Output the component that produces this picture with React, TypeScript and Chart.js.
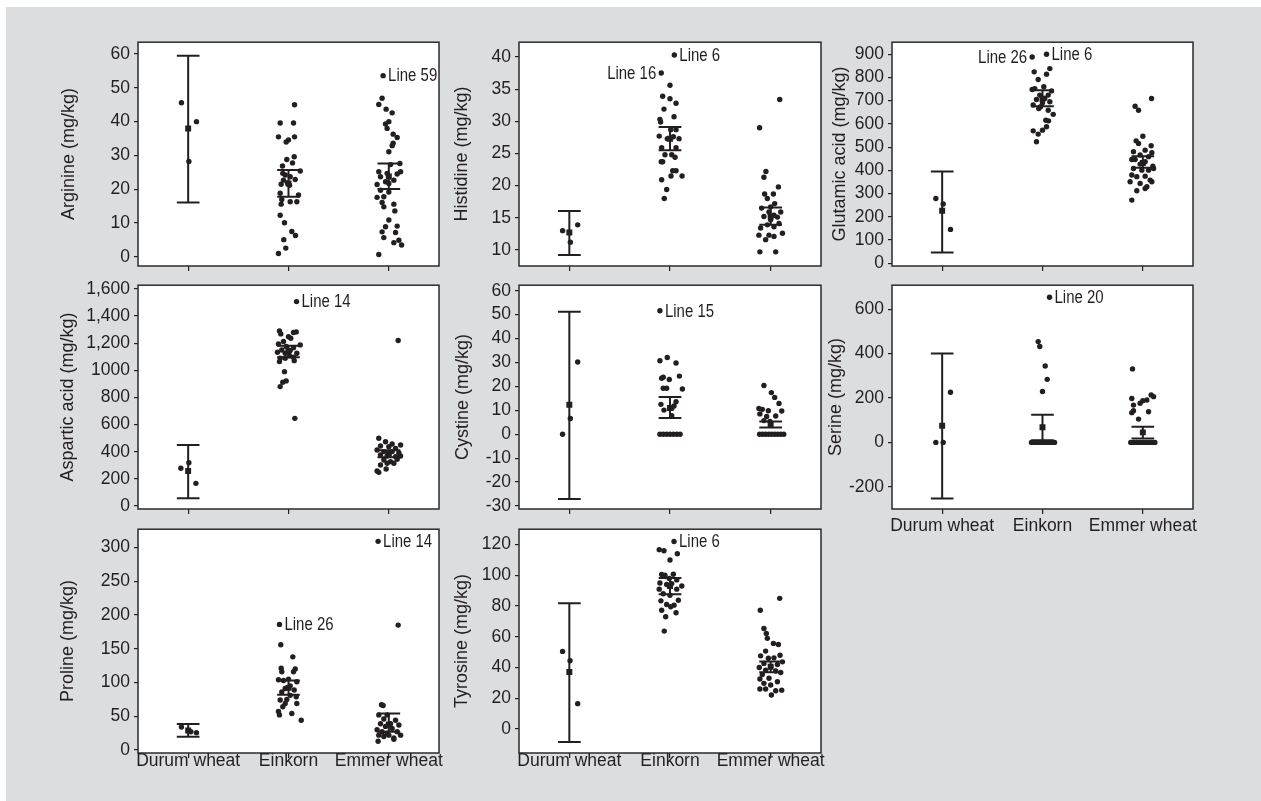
import React, { useEffect, useRef } from 'react';
import { Chart, registerables } from 'chart.js';

Chart.register(...registerables);

const FONT = '"Liberation Sans", Arial, sans-serif';
const INK = '#231f20';
const BG = '#dcdddf';

const CATEGORIES = ['Durum wheat', 'Einkorn', 'Emmer wheat'];

type Pt = [number, number]; // [jitter in category units, value]
type Note = { g: number; i: number; text: string; side: 'left' | 'right' };

// ---------- Arginine ----------
const ARG_DURUM: Pt[] = [[-0.067, 45.6], [0.083, 40.0], [0.007, 28.2]];
const ARG_EINKORN: Pt[] = [[0.06, 45.0], [-0.083, 39.6], [0.05, 39.6], [-0.1, 35.5], [0.06, 35.5], [-0.023, 34.0], [0, 34.6], [0.057, 29.6], [-0.017, 28.8], [0.04, 27.8], [-0.06, 26.9], [0.117, 25.4], [-0.033, 24.2], [0.067, 22.9], [-0.01, 21.9], [-0.073, 21.5], [0.01, 21.2], [-0.083, 18.8], [0.1, 18.3], [-0.067, 17.0], [-0.073, 15.6], [0.017, 16.3], [0.083, 16.3], [-0.083, 12.3], [-0.04, 10.1], [0.033, 7.5], [0.07, 6.3], [-0.047, 5.1], [-0.027, 2.6], [-0.1, 1.0], [-0.05, 22.7], [0.017, 23.7], [-0.057, 24.7]];
const ARG_EMMER: Pt[] = [[-0.057, 53.6], [-0.067, 46.9], [-0.1, 45.1], [-0.027, 43.7], [0.033, 42.6], [0, 40.0], [-0.033, 39.3], [-0.017, 38.0], [0.043, 36.3], [0.083, 35.3], [0.043, 33.6], [0.033, 32.9], [0, 31.1], [0.11, 27.6], [0.017, 27.3], [-0.1, 25.2], [0.117, 25.2], [-0.017, 24.7], [0.083, 24.5], [-0.083, 23.7], [0.05, 22.7], [-0.033, 22.2], [-0.117, 21.4], [0, 21.7], [-0.083, 19.7], [0, 19.2], [-0.117, 17.6], [-0.05, 17.8], [-0.067, 16.1], [0.05, 15.6], [-0.05, 14.8], [0.06, 13.6], [0, 10.9], [-0.033, 8.9], [0.083, 9.1], [-0.067, 7.4], [0.067, 7.2], [-0.05, 5.7], [0.1, 4.9], [0.05, 4.2], [0.127, 3.5], [-0.1, 0.7]];
const ARG_MEAN = [38.0, 21.7, 23.8];
const ARG_LO = [16.1, 17.8, 20.1];
const ARG_HI = [59.5, 25.7, 27.6];
const ARG_TICKS = [0, 10, 20, 30, 40, 50, 60];
const ARG_NOTES: Note[] = [{ g: 2, i: 0, text: 'Line 59', side: 'right' }];

// ---------- Histidine ----------
const HIS_DURUM: Pt[] = [[-0.067, 13.0], [0.083, 13.9], [0.01, 11.2]];
const HIS_EINKORN: Pt[] = [[0.043, 40.3], [-0.087, 37.5], [0, 35.6], [-0.073, 33.9], [0, 33.5], [0.06, 32.8], [-0.06, 31.9], [0.04, 30.7], [-0.1, 30.3], [-0.093, 29.9], [0.007, 28.7], [0.06, 28.7], [-0.107, 27.7], [-0.027, 27.3], [0.033, 27.6], [0.09, 27.3], [-0.083, 25.9], [0.06, 25.9], [-0.05, 24.8], [0.017, 24.8], [0.05, 24.4], [-0.087, 23.7], [-0.073, 23.7], [0.027, 22.3], [0.06, 22.3], [0.01, 21.5], [0.12, 21.5], [-0.083, 20.9], [-0.033, 19.4], [-0.057, 18.0]];
const HIS_EMMER: Pt[] = [[0.09, 33.4], [-0.11, 29.0], [-0.047, 22.2], [-0.067, 21.3], [0.077, 19.8], [-0.06, 18.7], [0.027, 18.7], [-0.033, 18.0], [0.04, 17.2], [-0.09, 16.5], [0.1, 15.9], [-0.017, 15.9], [0.033, 15.4], [-0.067, 15.2], [0, 14.7], [0.083, 14.1], [-0.033, 13.9], [0.033, 13.6], [-0.1, 13.4], [0.117, 12.6], [-0.117, 12.3], [-0.017, 12.3], [-0.05, 11.6], [0.033, 12.1], [-0.107, 9.7], [0.05, 9.7], [0, 16.7], [0.067, 15.1]];
const HIS_MEAN = [12.7, 27.3, 15.2];
const HIS_LO = [9.2, 25.5, 13.9];
const HIS_HI = [16.05, 29.1, 16.6];
const HIS_TICKS = [10, 15, 20, 25, 30, 35, 40];
const HIS_NOTES: Note[] = [
  { g: 1, i: 0, text: 'Line 6', side: 'right' },
  { g: 1, i: 1, text: 'Line 16', side: 'left' },
];

// ---------- Glutamic acid ----------
const GLU_DURUM: Pt[] = [[-0.063, 279], [0.01, 255], [0.083, 146]];
const GLU_EINKORN: Pt[] = [[-0.103, 888], [0.04, 900], [-0.083, 824], [0.073, 838], [0.04, 814], [-0.043, 791], [-0.077, 752], [0.013, 760], [-0.027, 724], [0.057, 724], [-0.103, 748], [0.09, 742], [-0.06, 705], [0.023, 709], [0, 691], [0.073, 695], [-0.093, 681], [-0.02, 674], [0.057, 659], [-0.037, 666], [0.107, 641], [0.033, 616], [0.06, 613], [-0.093, 570], [0, 573], [0.04, 588], [-0.043, 556], [-0.06, 523]];
const GLU_EMMER: Pt[] = [[0.087, 709], [-0.077, 676], [-0.043, 659], [0, 547], [-0.067, 527], [-0.043, 516], [0.083, 506], [-0.093, 480], [0.023, 487], [-0.027, 466], [0.09, 476], [0.057, 459], [-0.077, 447], [-0.11, 447], [0.1, 418], [-0.027, 427], [0.023, 437], [-0.093, 408], [0.107, 408], [-0.01, 401], [0.057, 401], [-0.11, 380], [-0.06, 373], [0.023, 375], [0.073, 358], [-0.127, 351], [-0.027, 344], [0.09, 351], [0.04, 330], [-0.06, 312], [0.023, 322], [-0.11, 272]];
const GLU_MEAN = [226, 708, 432];
const GLU_LO = [47, 676, 411];
const GLU_HI = [395, 745, 461];
const GLU_TICKS = [0, 100, 200, 300, 400, 500, 600, 700, 800, 900];
const GLU_NOTES: Note[] = [
  { g: 1, i: 0, text: 'Line 26', side: 'left' },
  { g: 1, i: 1, text: 'Line 6', side: 'right' },
];

// ---------- Aspartic acid ----------
const ASP_DURUM: Pt[] = [[-0.073, 278], [0.007, 319], [0.077, 167]];
const ASP_EINKORN: Pt[] = [[0.08, 1506], [-0.09, 1290], [-0.077, 1268], [0.05, 1278], [0.077, 1283], [0, 1248], [-0.05, 1212], [0.023, 1236], [-0.1, 1194], [0.117, 1187], [-0.023, 1175], [0.05, 1167], [-0.067, 1150], [0.017, 1145], [-0.11, 1133], [-0.033, 1126], [0.083, 1126], [0.01, 1106], [0.05, 1096], [-0.083, 1089], [-0.033, 1089], [-0.09, 1064], [0.057, 1071], [-0.04, 990], [-0.023, 922], [-0.057, 912], [-0.083, 880], [0.063, 646]];
const ASP_EMMER: Pt[] = [[0.093, 1219], [-0.1, 499], [-0.033, 474], [0.033, 457], [0.117, 450], [-0.083, 442], [0, 437], [0.067, 425], [-0.117, 413], [-0.05, 401], [0.033, 401], [0.1, 393], [-0.083, 376], [-0.017, 369], [0.067, 364], [0.117, 369], [-0.05, 339], [0.017, 327], [0.05, 315], [-0.083, 302], [-0.017, 315], [-0.027, 273], [-0.117, 258], [-0.1, 248], [0.083, 344]];
const ASP_MEAN = [258, 1140, 385];
const ASP_LO = [57, 1096, 360];
const ASP_HI = [450, 1180, 410];
const ASP_TICKS = [0, 200, 400, 600, 800, 1000, 1200, 1400, 1600];
const ASP_TICK_LABELS = ['0', '200', '400', '600', '800', '1000', '1,200', '1,400', '1,600'];
const ASP_NOTES: Note[] = [{ g: 1, i: 0, text: 'Line 14', side: 'right' }];

// ---------- Cystine ----------
const CYS_DURUM: Pt[] = [[-0.067, 0], [0.01, 6.6], [0.083, 30.2]];
const CYS_EINKORN: Pt[] = [[-0.1, 51.6], [-0.027, 32.1], [-0.1, 30.7], [0.06, 29.8], [0.093, 24.3], [-0.083, 23.4], [-0.067, 23.8], [-0.007, 22.9], [-0.067, 19.2], [-0.033, 19.2], [0.123, 18.9], [-0.09, 12.5], [0.06, 13.6], [-0.06, 10.1], [0.017, 10.8], [0.04, 11.8], [0.017, 7.7], [-0.1, 0], [-0.067, 0], [-0.033, 0], [0, 0], [0.033, 0], [0.067, 0], [0.1, 0]];
const CYS_EMMER: Pt[] = [[-0.067, 20.4], [0.007, 17.4], [0.04, 15.4], [0.083, 12.9], [-0.117, 10.8], [-0.083, 10.4], [-0.023, 9.8], [0.11, 9.7], [-0.107, 8.5], [-0.04, 7.4], [0.05, 7.6], [-0.067, 5.7], [-0.007, 5.3], [-0.11, 0], [-0.08, 0], [-0.05, 0], [-0.02, 0], [0.01, 0], [0.04, 0], [0.07, 0], [0.1, 0], [0.13, 0]];
const CYS_MEAN = [12.3, 11.0, 4.0];
const CYS_LO = [-27.1, 6.8, 2.8];
const CYS_HI = [51.2, 15.6, 5.3];
const CYS_TICKS = [-30, -20, -10, 0, 10, 20, 30, 40, 50, 60];
const CYS_NOTES: Note[] = [{ g: 1, i: 0, text: 'Line 15', side: 'right' }];

// ---------- Serine ----------
const SER_DURUM: Pt[] = [[-0.063, 0], [0.01, 0], [0.083, 226]];
const SER_EINKORN: Pt[] = [[0.07, 654], [-0.043, 454], [-0.027, 432], [0.027, 344], [0.047, 284], [0, 229], [-0.11, 0], [-0.08, 0], [-0.05, 0], [-0.02, 0], [0.01, 0], [0.04, 0], [0.07, 0], [0.1, 0], [0.12, 0]];
const SER_EMMER: Pt[] = [[-0.103, 331], [-0.11, 198], [0, 188], [0.04, 191], [0.083, 214], [0.107, 206], [-0.093, 168], [-0.093, 143], [-0.11, 134], [0.057, 138], [-0.043, 105], [-0.027, 176], [-0.12, 0], [-0.09, 0], [-0.06, 0], [-0.03, 0], [0, 0], [0.03, 0], [0.06, 0], [0.09, 0], [0.12, 0]];
const SER_MEAN = [75, 68, 45];
const SER_LO = [-253, 10, 18];
const SER_HI = [400, 125, 71];
const SER_TICKS = [-200, 0, 200, 400, 600];
const SER_NOTES: Note[] = [{ g: 1, i: 0, text: 'Line 20', side: 'right' }];

// ---------- Proline ----------
const PRO_DURUM: Pt[] = [[-0.067, 34], [0.083, 25.7], [0.027, 27]];
const PRO_EINKORN: Pt[] = [[-0.09, 186], [-0.077, 156], [0.043, 138], [-0.073, 121], [0.067, 120], [-0.067, 116], [0.05, 116], [-0.1, 104], [-0.05, 103], [0, 105], [0.083, 101], [0.017, 95], [-0.033, 91], [0.057, 89], [-0.067, 86], [0.017, 81], [0.077, 79], [-0.083, 74], [-0.017, 75], [-0.033, 69], [0.083, 69], [-0.057, 64], [-0.1, 57], [-0.09, 52], [0.033, 54], [0.127, 44]];
const PRO_EMMER: Pt[] = [[-0.107, 309], [0.093, 185], [-0.073, 67], [-0.057, 66], [-0.1, 52], [-0.017, 52], [-0.05, 46], [0.067, 44], [-0.083, 39], [0.017, 39], [0.1, 37], [-0.033, 35], [-0.117, 30], [0.033, 32], [-0.067, 27], [0.083, 27], [-0.017, 25], [-0.1, 22], [0.117, 22], [-0.05, 20], [0.05, 18], [-0.107, 13], [0, 22], [0.05, 16]];
const PRO_MEAN = [28.9, 92, 38];
const PRO_LO = [19.7, 82, 27];
const PRO_HI = [38.5, 103, 54];
const PRO_TICKS = [0, 50, 100, 150, 200, 250, 300];
const PRO_NOTES: Note[] = [
  { g: 1, i: 0, text: 'Line 26', side: 'right' },
  { g: 2, i: 0, text: 'Line 14', side: 'right' },
];

// ---------- Tyrosine ----------
const TYR_DURUM: Pt[] = [[-0.067, 50.5], [0.007, 44.4], [0.083, 16.5]];
const TYR_EINKORN: Pt[] = [[0.04, 122], [-0.107, 116.7], [-0.06, 116], [0.073, 114], [0, 110], [-0.083, 100.5], [-0.05, 100], [0.033, 100.7], [-0.007, 98], [0.067, 97], [-0.1, 95], [0.117, 93], [-0.033, 94], [0.017, 94.6], [0.067, 91], [-0.107, 91], [-0.067, 88], [0, 87], [-0.09, 83.4], [0.083, 83.8], [-0.033, 81], [0.04, 80.6], [-0.083, 77.3], [0.007, 79.5], [0.06, 75.6], [-0.043, 73], [-0.057, 63.7]];
const TYR_EMMER: Pt[] = [[0.09, 85], [-0.103, 77.3], [-0.067, 65.4], [-0.043, 62.2], [-0.033, 59], [0.027, 55.7], [0.077, 55], [-0.05, 50.7], [-0.1, 47.6], [0.093, 48], [-0.023, 46], [0.033, 46.3], [0.117, 43.7], [-0.067, 42.7], [0.067, 42], [-0.113, 40], [0, 40.5], [-0.05, 38.3], [0.05, 37.7], [0.1, 36.8], [-0.083, 35.5], [-0.107, 32.5], [-0.017, 33], [0.067, 30.8], [-0.067, 29.7], [0, 28.6], [-0.107, 26], [-0.05, 26], [0.11, 25.3], [0.05, 24.9], [0.007, 22.1]];
const TYR_MEAN = [37.1, 93, 40.5];
const TYR_LO = [-8.4, 87.7, 37];
const TYR_HI = [81.9, 98.3, 44];
const TYR_TICKS = [0, 20, 40, 60, 80, 100, 120];
const TYR_NOTES: Note[] = [{ g: 1, i: 0, text: 'Line 6', side: 'right' }];

// ---------- panel table (layout) ----------
type Panel = {
  title: string; groups: Pt[][]; mean: number[]; lo: number[]; hi: number[];
  ticks: number[]; tickLabels?: string[]; yMin: number; yMax: number; notes: Note[];
  rect: [number, number, number, number]; titleDist: number; showX: boolean; xPad?: number;
};

const PANELS: Panel[] = [
  { title: 'Arginine (mg/kg)', groups: [ARG_DURUM, ARG_EINKORN, ARG_EMMER], mean: ARG_MEAN, lo: ARG_LO, hi: ARG_HI, ticks: ARG_TICKS, yMin: -2.7, yMax: 63.5, notes: ARG_NOTES, rect: [138, 42, 439, 266], titleDist: 69.5, showX: false },
  { title: 'Histidine (mg/kg)', groups: [HIS_DURUM, HIS_EINKORN, HIS_EMMER], mean: HIS_MEAN, lo: HIS_LO, hi: HIS_HI, ticks: HIS_TICKS, yMin: 7.5, yMax: 42.3, notes: HIS_NOTES, rect: [519, 42, 821, 266], titleDist: 57.3, showX: false },
  { title: 'Glutamic acid (mg/kg)', groups: [GLU_DURUM, GLU_EINKORN, GLU_EMMER], mean: GLU_MEAN, lo: GLU_LO, hi: GLU_HI, ticks: GLU_TICKS, yMin: -11.6, yMax: 951.6, notes: GLU_NOTES, rect: [892, 42, 1193, 266], titleDist: 52.3, showX: false },
  { title: 'Aspartic acid (mg/kg)', groups: [ASP_DURUM, ASP_EINKORN, ASP_EMMER], mean: ASP_MEAN, lo: ASP_LO, hi: ASP_HI, ticks: ASP_TICKS, tickLabels: ASP_TICK_LABELS, yMin: -22, yMax: 1627, notes: ASP_NOTES, rect: [138, 285, 439, 509], titleDist: 69.8, showX: false },
  { title: 'Cystine (mg/kg)', groups: [CYS_DURUM, CYS_EINKORN, CYS_EMMER], mean: CYS_MEAN, lo: CYS_LO, hi: CYS_HI, ticks: CYS_TICKS, yMin: -31.25, yMax: 62.3, notes: CYS_NOTES, rect: [519, 285, 821, 509], titleDist: 56.7, showX: false },
  { title: 'Serine (mg/kg)', groups: [SER_DURUM, SER_EINKORN, SER_EMMER], mean: SER_MEAN, lo: SER_LO, hi: SER_HI, ticks: SER_TICKS, yMin: -300, yMax: 708, notes: SER_NOTES, rect: [892, 285, 1193, 509], titleDist: 55.8, showX: true, xPad: 2 },
  { title: 'Proline (mg/kg)', groups: [PRO_DURUM, PRO_EINKORN, PRO_EMMER], mean: PRO_MEAN, lo: PRO_LO, hi: PRO_HI, ticks: PRO_TICKS, yMin: -4.4, yMax: 327, notes: PRO_NOTES, rect: [138, 529, 439, 753], titleDist: 69.8, showX: true, xPad: -7 },
  { title: 'Tyrosine (mg/kg)', groups: [TYR_DURUM, TYR_EINKORN, TYR_EMMER], mean: TYR_MEAN, lo: TYR_LO, hi: TYR_HI, ticks: TYR_TICKS, yMin: -15.6, yMax: 130, notes: TYR_NOTES, rect: [519, 529, 821, 753], titleDist: 57.3, showX: true, xPad: -7 },
];

const TICK_FONT = { family: FONT, size: 17.5, lineHeight: 1.2 };
const TITLE_FONT = { family: FONT, size: 18, lineHeight: 1.2 };
const CAP = 0.113;
const PAD_T = 4;
const PAD_R = 14;

const panelDecor = {
  id: 'panelDecor',
  beforeDraw(chart: any) {
    const { ctx, chartArea: a } = chart;
    ctx.save();
    ctx.fillStyle = '#ffffff';
    ctx.fillRect(a.left, a.top, a.right - a.left, a.bottom - a.top);
    ctx.restore();
  },
  afterDraw(chart: any, _args: any, opts: any) {
    const { ctx, chartArea: a, scales } = chart;
    ctx.save();
    ctx.strokeStyle = '#2a2a2a';
    ctx.lineWidth = 1.5;
    ctx.strokeRect(a.left, a.top, a.right - a.left, a.bottom - a.top);
    ctx.fillStyle = INK;
    ctx.font = `17.5px ${FONT}`;
    ctx.textBaseline = 'middle';
    for (const n of (opts.notes || []) as Note[]) {
      const pt = opts.groups[n.g][n.i];
      const px = scales.x.getPixelForValue(n.g + pt[0]);
      const py = scales.y.getPixelForValue(pt[1]);
      ctx.save();
      ctx.translate(px + (n.side === 'right' ? 5 : -5), py + 1);
      ctx.scale(0.855, 1);
      ctx.textAlign = n.side === 'right' ? 'left' : 'right';
      ctx.fillText(n.text, 0, 0);
      ctx.restore();
    }
    ctx.restore();
  },
};

function geometry(p: Panel) {
  const [L, T, R, B] = p.rect;
  const left = Math.round(L - p.titleDist - TITLE_FONT.size * TITLE_FONT.lineHeight / 2);
  const top = T - PAD_T;
  const H = p.showX ? 42 : 8;
  return { left, top, W: L - left, H, width: R + PAD_R - left, height: B + H - top };
}

function PanelChart({ p }: { p: Panel }) {
  const ref = useRef<HTMLCanvasElement>(null);
  const g = geometry(p);

  useEffect(() => {
    if (!ref.current) return;
    const points = p.groups.flatMap((grp, gi) => grp.map(([dx, v]) => ({ x: gi + dx, y: v })));
    const means = p.mean.map((m, i) => ({ x: i, y: m }));
    const segs: any[] = [];
    p.lo.forEach((lo, i) => {
      const hi = p.hi[i];
      segs.push([{ x: i - CAP, y: hi }, { x: i + CAP, y: hi }]);
      segs.push([{ x: i, y: hi }, { x: i, y: lo }]);
      segs.push([{ x: i - CAP, y: lo }, { x: i + CAP, y: lo }]);
    });
    const labels = p.tickLabels || p.ticks.map(String);

    const chart = new Chart(ref.current, {
      type: 'scatter',
      data: {
        datasets: [
          { data: points, backgroundColor: INK, borderWidth: 0, pointRadius: 2.7, pointStyle: 'circle' },
          { data: means, backgroundColor: INK, borderWidth: 0, pointRadius: 4.2, pointStyle: 'rect' },
          ...segs.map((s) => ({ data: s, showLine: true, borderColor: INK, borderWidth: 2, pointRadius: 0, fill: false })),
        ] as any,
      },
      options: {
        animation: false,
        responsive: false,
        maintainAspectRatio: false,
        events: [],
        layout: { padding: { top: PAD_T, right: PAD_R, left: 0, bottom: 0 } },
        plugins: {
          legend: { display: false },
          tooltip: { enabled: false },
          panelDecor: { notes: p.notes, groups: p.groups },
        } as any,
        scales: {
          x: {
            type: 'linear',
            min: -0.5,
            max: 2.5,
            afterBuildTicks: (a: any) => { a.ticks = [0, 1, 2].map((v) => ({ value: v })); },
            ticks: {
              display: p.showX,
              autoSkip: false,
              maxRotation: 0,
              minRotation: 0,
              font: TICK_FONT,
              color: INK,
              padding: p.xPad ?? -7,
              callback: (v: any) => CATEGORIES[Math.round(Number(v))] ?? '',
            },
            grid: { display: true, drawOnChartArea: false, drawTicks: true, tickLength: 5, color: INK, lineWidth: 1.2 },
            border: { display: false },
            afterFit: (a: any) => { a.height = g.H; a.paddingLeft = 0; a.paddingRight = 0; },
          },
          y: {
            type: 'linear',
            min: p.yMin,
            max: p.yMax,
            afterBuildTicks: (a: any) => { a.ticks = p.ticks.map((v) => ({ value: v })); },
            ticks: {
              autoSkip: false,
              font: TICK_FONT,
              color: INK,
              padding: 4,
              callback: (v: any) => {
                const k = p.ticks.indexOf(Number(v));
                return k >= 0 ? labels[k] : '';
              },
            },
            title: { display: true, text: p.title, font: TITLE_FONT, color: INK, padding: 0 },
            grid: { display: true, drawOnChartArea: false, drawTicks: true, tickLength: 4, color: INK, lineWidth: 1.2 },
            border: { display: false },
            afterFit: (a: any) => { a.width = g.W; a.paddingTop = 0; a.paddingBottom = 0; },
          },
        },
      } as any,
      plugins: [panelDecor],
    });
    return () => chart.destroy();
  }, []);

  return (
    <canvas
      ref={ref}
      width={g.width}
      height={g.height}
      style={{ position: 'absolute', left: g.left, top: g.top, width: g.width, height: g.height }}
    />
  );
}

export default function App() {
  return (
    <div style={{ position: 'fixed', left: 0, top: 0, width: 1261, height: 801, background: '#ffffff', overflow: 'hidden' }}>
      <div style={{ position: 'absolute', left: 6, top: 7, right: 0, bottom: 0, background: BG }} />
      {PANELS.map((p, i) => (
        <PanelChart key={i} p={p} />
      ))}
    </div>
  );
}
